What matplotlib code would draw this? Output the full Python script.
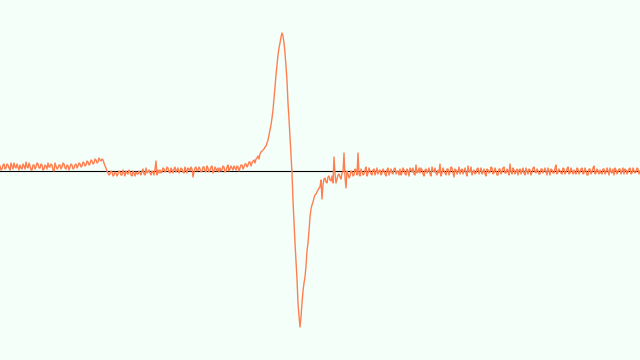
import numpy as np
import matplotlib
matplotlib.use("Agg")
import matplotlib.pyplot as plt

# readings at even field positions (0, 2, ..., 640), 0 = baseline
signal_even = [
    5, 2, 7, 3, 6, 1, 5, 8, 3, 4,
    6, 2, 5, 9, 3, 5, 1, 6, 4, 7,
    3, 6, 2, 5, 8, 4, 6, 0, 5, 3,
    6, 4, 7, 2, 5, 4, 6, 3, 7, 5,
    7, 5, 8, 6, 9, 7, 10, 8, 11, 9,
    11, 12, 8, 3, -2, -3, -1, -4, -2, -3,
    -1, -4, -2, 0, -3, -1, -5, -2, -1, -3,
    -2, 0, -3, 3, -1, -2, 0, -4, 10, 1,
    1, -1, 2, 0, 3, -2, 1, 2, -1, 3,
    0, 2, -2, 1, 3, 0, 2, -1, 4, 1,
    2, 0, 4, -1, 3, 1, 5, 0, 2, 3,
    3, 1, 4, 0, 6, 2, 3, 5, 1, 4,
    3, 6, 4, 7, 6, 9, 8, 11, 12, 15,
    17, 20, 22, 25, 31, 41, 53, 72, 96, 116,
    128, 138, 128, 105, 68, 34, -2, -52, -90, -132,
    -156, -132, -112, -95, -72, -46, -34, -27, -23, -19,
    -16, -28, -8, -11, -6, -9, -5, 14, -12, -4,
    -6, -2, 18, -17, -3, -5, -1, -4, 1, 18,
    -5, -1, -3, 4, -2, 0, -4, 2, -1, -3,
    1, -2, 0, -5, 3, -1, -2, 2, -3, 0,
    2, -2, 1, -4, 0, 3, -1, -3, 6, -1,
    -2, 1, -5, 2, 0, -3, 4, -1, -2, 1,
    7, -2, 0, -4, 2, -1, 3, -6, 1, -1,
    -3, 2, 0, -2, 5, -1, -4, 1, -2, 3,
    0, -3, 2, -5, 1, -1, 3, -2, 0, -4,
    2, -1, 4, -2, 0, 7, -3, 1, -1, -4,
    2, 0, -2, 3, -3, 1, -1, 4, -2, 0,
    -3, 2, 0, -1, 3, -4, 1, -2, 6, -1,
    0, -3, 2, -1, 4, -2, 0, 1, -3, 2,
    -1, 3, -2, 0, -4, 2, -1, 5, -2, 0,
    1, -3, 2, -1, 0, 3, -2, -4, 1, -1,
    2, 0, -3, 1, -1, 3, -2, 0, -1, 2,
    0,
]

# readings at odd field positions (1, 3, ..., 639)
signal_odd = [
    1, 6, 2, 7, 3, 8, 2, 4, 7, 1,
    3, 7, 2, 4, 8, 1, 6, 2, 8, 3,
    7, 1, 6, 2, 4, 7, 1, 8, 2, 6,
    2, 8, 3, 6, 1, 7, 2, 6, 3, 8,
    4, 9, 5, 10, 6, 11, 7, 12, 8, 13,
    10, 11, 5, 0, -4, 0, -5, -1, -5, 0,
    -4, 1, -5, -2, 1, -4, 0, -5, -3, 0,
    -4, 2, -4, -2, 1, -4, -1, 2, -4, -2,
    -2, 3, -1, 4, -1, 3, -2, 4, 1, -2,
    3, -1, 4, -2, 2, 4, -6, 3, 0, 4,
    -1, 4, 0, 5, -1, 4, -2, 4, 0, -1,
    0, 5, -1, 4, 0, 5, 1, 3, 5, 0,
    6, 2, 7, 4, 9, 5, 10, 8, 13, 12,
    19, 21, 24, 28, 36, 46, 61, 84, 106, 123,
    134, 135, 118, 90, 52, 18, -30, -72, -108, -145,
    -146, -120, -106, -80, -60, -38, -31, -24, -21, -17,
    -9, -14, -7, -12, -5, -10, -12, -3, -8, -3,
    -8, -1, -6, 0, -7, 0, -5, 2, -4, -3,
    2, -4, 1, -5, 3, -3, 1, -4, 3, 0,
    -4, 2, -3, 1, -4, 2, -3, 3, 0, -4,
    -4, 3, -3, 2, -5, 1, 3, -4, -2, 3,
    3, -3, 1, -2, 3, -5, 0, 3, -4, -2,
    -5, 3, -2, 2, -4, 4, -2, 2, -3, 4,
    1, -3, 3, -5, -1, 4, -1, -3, 2, -3,
    3, -1, -3, 2, -2, 4, -3, 3, -4, 2,
    -3, 3, -2, 2, -4, -1, 3, -3, 2, 1,
    -3, 3, -4, -1, 2, -4, 3, -1, 2, -3,
    2, -2, 3, -4, 0, 2, -2, 3, -3, 2,
    -2, 3, -3, 2, -3, 3, -3, -2, 3, -3,
    2, -3, 3, -4, 2, -3, 3, -3, 2, -3,
    -2, 2, -3, 3, -4, -1, 2, 3, -3, 2,
    -3, 3, 2, -3, 2, -3, 3, -2, 3, -3,
]

field = np.arange(0, 641)
signal = np.empty(field.size)
signal[0::2] = signal_even
signal[1::2] = signal_odd

fig = plt.figure(figsize=(6.4, 3.6), dpi=100, facecolor="mintcream")
ax = fig.add_axes([0, 0, 1, 1])
ax.set_facecolor("mintcream")
ax.axhline(0, color="black", lw=0.8, zorder=1)
ax.plot(field, signal, color="coral", lw=1.0, zorder=2)
ax.set_xlim(0, 640)
ax.set_ylim(-189, 171)
ax.axis("off")
fig.savefig("out.png", dpi=100, facecolor=fig.get_facecolor())
